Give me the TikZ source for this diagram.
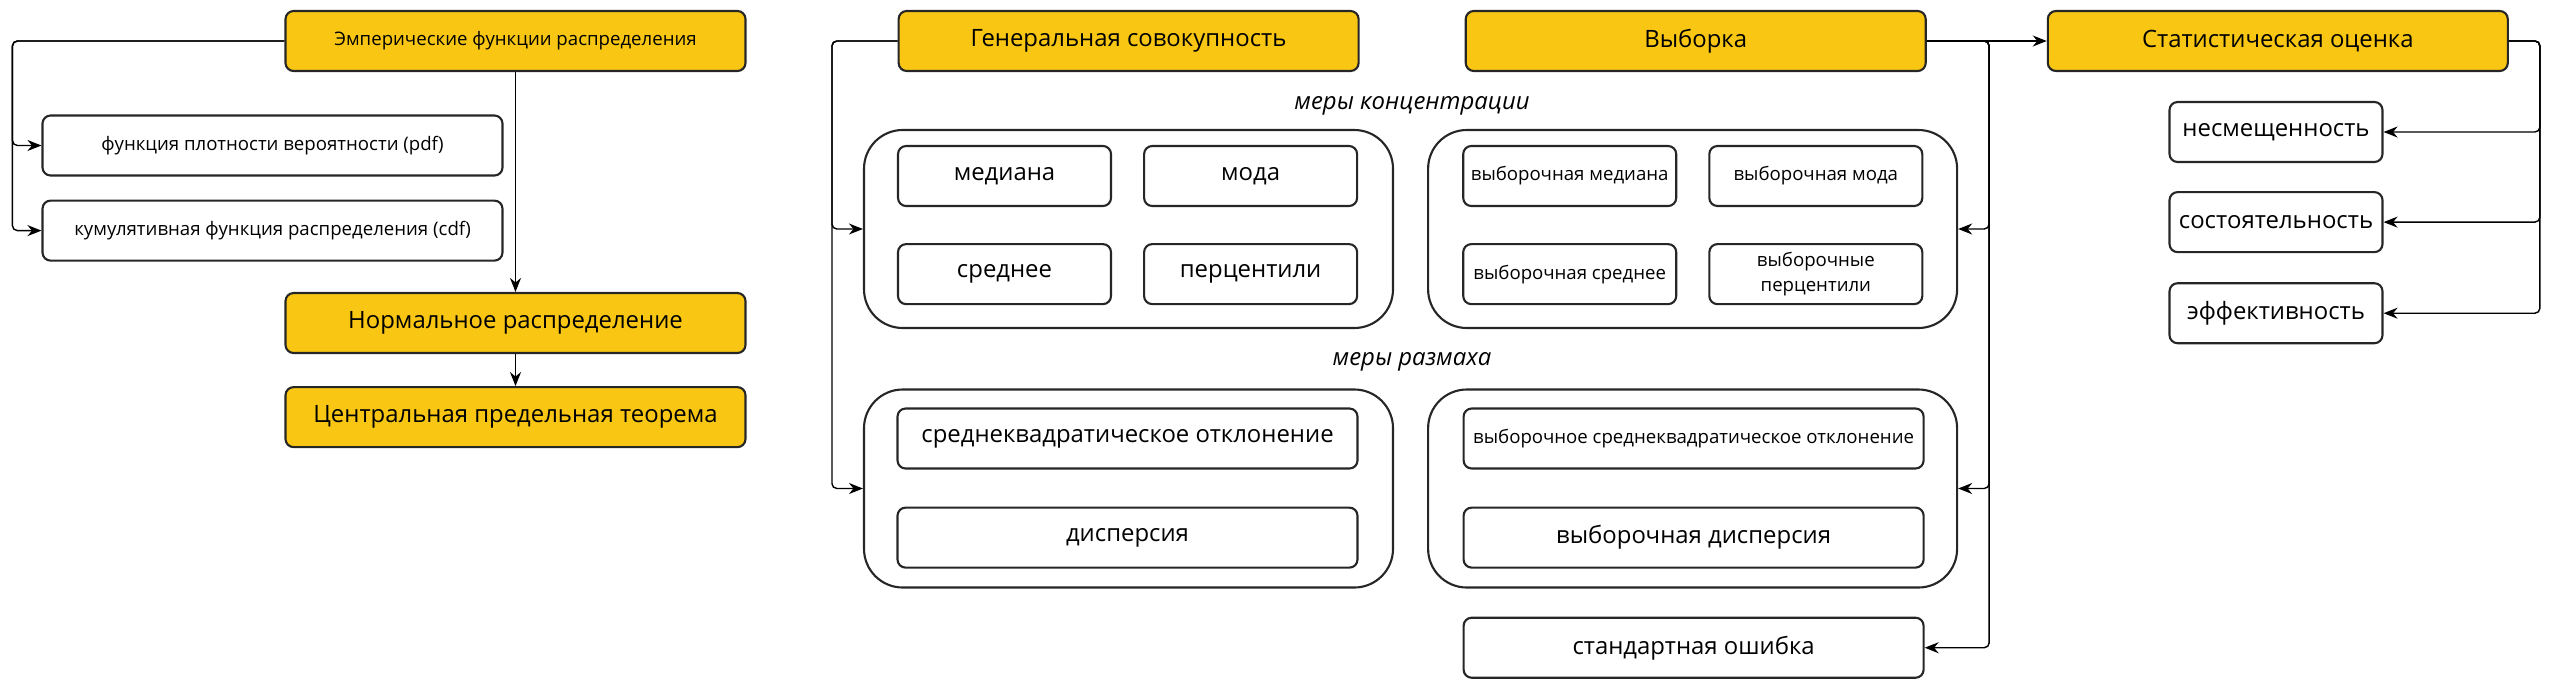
\documentclass[tikz,border=0pt]{standalone}
\usepackage{fontspec}
\setmainfont{Open Sans}
\usepackage{tikz}
\usetikzlibrary{positioning,arrows.meta,calc}
\definecolor{hdrfill}{HTML}{F9C713}
\definecolor{edgegray}{HTML}{262626}

\begin{document}
\begin{tikzpicture}[
  x=0.1mm, y=-0.1mm,
  node distance=4mm,
  blk/.style={draw=edgegray, line width=0.6pt, rounded corners=2.3pt, minimum height=6mm,
              minimum width=21.3mm, align=center, font=\fontsize{6.8}{8}\selectfont,
              fill=white, inner sep=1pt},
  hdr/.style={blk, fill=hdrfill, minimum width=46mm},
  wide/.style={blk, minimum width=46mm},
  sml/.style={font=\fontsize{5.3}{7}\selectfont},
  grp/.style={draw=edgegray, line width=0.6pt, rounded corners=11pt,
              minimum width=52.9mm, minimum height=19.8mm},
  lbl/.style={font=\fontsize{6.8}{8}\selectfont\itshape},
  link/.style={->, line width=0.4pt, rounded corners=1.4pt},
  >={Stealth[length=1.4mm, width=1.1mm]}
]
\useasboundingbox (0,0) rectangle (2558,686);

% left column
\node[hdr, sml] (emp) at (515.5,41) {Эмперические функции распределения};
\node[wide, sml] (pdf) at (272.5,145.5) {функция плотности вероятности (pdf)};
\node[wide, sml, below=2.3mm of pdf] (cdf) {кумулятивная функция распределения (cdf)};
\node[hdr] (norm) at (515.5,323) {Нормальное распределение};
\node[hdr, below=3.2mm of norm] (clt) {Центральная предельная теорема};

% headers
\node[hdr, right=15.1mm of emp] (gen) {Генеральная совокупность};
\node[hdr, right=10.5mm of gen] (smp) {Выборка};
\node[hdr, right=12mm of smp] (est) {Статистическая оценка};

% measures of concentration
\node[lbl] (conc) at (1412,106) {меры концентрации};
\node[grp] (cgrpL) at (1128.5,229) {};
\node[grp, right=3.3mm of cgrpL] (cgrpR) {};
\node[blk] (med) at (1004.5,176) {медиана};
\node[blk, right=3.1mm of med] (mode) {мода};
\node[blk, below=3.6mm of med] (mean) {среднее};
\node[blk, below=3.6mm of mode] (perc) {перцентили};
\node[blk, sml, right=10.4mm of mode] (smed) {выборочная медиана};
\node[blk, sml, right=3.1mm of smed] (smode) {выборочная мода};
\node[blk, sml, below=3.6mm of smed] (smean) {выборочная среднее};
\node[blk, sml, below=3.6mm of smode] (sperc) {выборочные\\перцентили};

% measures of spread
\node[lbl] (sprd) at (1412,362) {меры размаха};
\node[grp] (sgrpL) at (1128.5,488.5) {};
\node[grp, right=3.3mm of sgrpL] (sgrpR) {};
\node[wide] (std) at (1127.5,438.5) {среднеквадратическое отклонение};
\node[wide, below=3.7mm of std] (var) {дисперсия};
\node[wide, sml, right=10.4mm of std] (sstd) {выборочное среднеквадратическое отклонение};
\node[wide, right=10.4mm of var] (svar) {выборочная дисперсия};
\node[wide, below=4.8mm of svar] (se) {стандартная ошибка};

% estimator properties
\node[blk] (unb) at (2276,132) {несмещенность};
\node[blk, below=2.8mm of unb] (cons) {состоятельность};
\node[blk, below=2.9mm of cons] (eff) {эффективность};

% trunks
\coordinate (ltrunk) at ([xshift=-2.9mm]pdf.west);
\coordinate (gtrunk) at ([xshift=-3.1mm]cgrpL.west);
\coordinate (strunk) at ([xshift=3.1mm]cgrpR.east);
\coordinate (etrunk) at ([xshift=3.1mm]est.east);

\draw[link] (emp.west) -| (ltrunk |- pdf.west) -- (pdf.west);
\draw[link] (emp.west) -| (ltrunk |- cdf.west) -- (cdf.west);
\draw[link] (emp.south) -- (norm.north);
\draw[link] (norm.south) -- (clt.north);

\draw[link] (gen.west) -| (gtrunk |- cgrpL.west) -- (cgrpL.west);
\draw[link] (gen.west) -| (gtrunk |- sgrpL.west) -- (sgrpL.west);

\draw[link] (smp.east) -| (strunk |- cgrpR.east) -- (cgrpR.east);
\draw[link] (smp.east) -| (strunk |- sgrpR.east) -- (sgrpR.east);
\draw[link] (smp.east) -| (strunk |- se.east) -- (se.east);
\draw[link] (smp.east) -- (est.west);

\draw[link] (est.east) -| (etrunk |- unb.east) -- (unb.east);
\draw[link] (est.east) -| (etrunk |- cons.east) -- (cons.east);
\draw[link] (est.east) -| (etrunk |- eff.east) -- (eff.east);
\end{tikzpicture}
\end{document}
